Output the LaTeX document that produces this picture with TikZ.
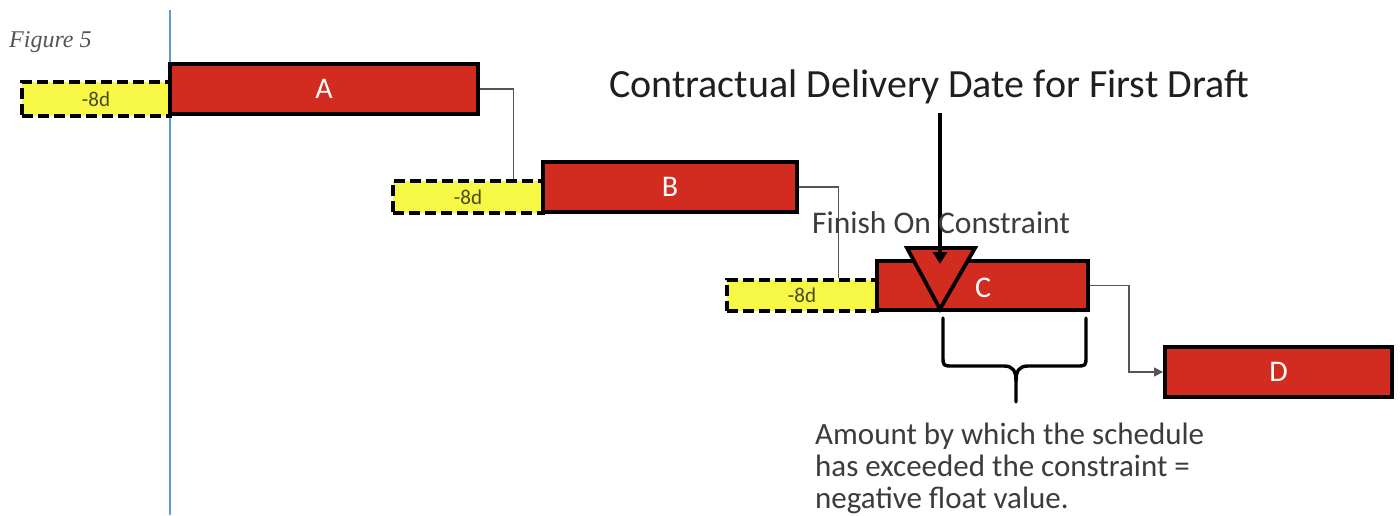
\documentclass[tikz,border=0pt]{standalone}
\usepackage{fontspec}
\setmainfont{Carlito}
\newfontfamily\figfont{Liberation Serif}
\usetikzlibrary{arrows.meta,calc}
\definecolor{barred}{HTML}{D22B1F}
\definecolor{slackyel}{HTML}{F7F746}
\definecolor{slacktxt}{HTML}{4A4A1E}
\definecolor{linegray}{HTML}{555555}
\definecolor{txtgray}{HTML}{3C3C3C}
\definecolor{axisblue}{HTML}{5B9BD5}
\tikzset{
  redbox/.style={draw=black, line width=3.8pt, fill=barred, text=white, inner sep=0pt,
    font=\fontsize{30}{32}\selectfont},
  slackbox/.style={draw=black, line width=3.4pt, dash pattern=on 11pt off 5pt, fill=slackyel,
    text=slacktxt, inner sep=0pt, font=\fontsize{21}{23}\selectfont},
  conn/.style={draw=linegray, line width=1.3pt},
  bigarrow/.style={draw=black, line width=3.4pt, -{Triangle[length=12pt,width=14pt]}},
  brace/.style={draw=black, line width=3.4pt, line cap=round, line join=round},
}
\begin{document}
\begin{tikzpicture}[x=1pt,y=-1pt]
\useasboundingbox (0,0) rectangle (1400,515);
\fill[white] (0,0) rectangle (1400,515);
% time axis
\coordinate (axtop) at (170,10);
\coordinate (axbot) at (170,515);
\draw[axisblue, line width=2.2pt] (axtop) -- (axbot);
\node[anchor=base west, text=linegray, inner sep=0pt, font=\figfont\itshape\fontsize{24}{26}\selectfont] (fig) at (9,47) {Figure 5};
% slack boxes
\node[slackbox, minimum width=148pt, minimum height=34pt] (yA) at (96,99) {-8d};
\node[slackbox, minimum width=150pt, minimum height=32pt] (yB) at (468,197) {-8d};
\node[slackbox, minimum width=150pt, minimum height=31pt] (yC) at (802,295.5) {-8d};
% bars
\node[redbox, minimum width=308pt, minimum height=50pt] (A) at (324,89) {A};
\node[redbox, minimum width=254pt, minimum height=50pt] (B) at (670,187) {B};
\node[redbox, minimum width=211pt, minimum height=49pt] (C) at (982.5,285.5) {};
\node[redbox, minimum width=227pt, minimum height=50pt] (D) at (1278.5,372) {D};
% connectors
\draw[conn] (A.east) -| ([xshift=-31pt]yB.north east);
\draw[conn] (B.east) -| ([xshift=-40pt]yC.north east);
\draw[conn, -{Triangle[length=9pt,width=9pt]}] (C.east) -- ++(39,0) |- (D.west);
% constraint marker
\coordinate (tl) at (907,248);
\coordinate (tr) at (975,248);
\coordinate (tip) at (940,309);
\filldraw[fill=barred, draw=black, line width=3.8pt, line join=miter] (tl) -- (tr) -- (tip) -- cycle;
\node[text=white, font=\fontsize{30}{32}\selectfont, inner sep=0pt] (Clab) at (983,288) {C};
% title + arrow
\node[anchor=base, text=black!88, inner sep=0pt, font=\fontsize{40}{42}\selectfont] (title) at (929,97) {Contractual Delivery Date for First Draft};
\coordinate (arrtop) at (940,113);
\coordinate (arrend) at (940,264);
\draw[bigarrow] (arrtop) -- (arrend);
\node[anchor=base west, text=txtgray, inner sep=0pt, font=\fontsize{31.5}{33}\selectfont] (foc) at (812,233) {Finish On Constraint};
% brace
\draw[brace] (943,318) -- (943,356) .. controls (943,366) .. (953,366) -- (1004,366)
  .. controls (1013,366) and (1016,371) .. (1016,381) -- (1016,402);
\draw[brace] (1086,318) -- (1086,356) .. controls (1086,366) .. (1076,366) -- (1028,366)
  .. controls (1019,366) and (1016,371) .. (1016,381);
\node[anchor=base west, align=left, text=txtgray, inner sep=0pt, font=\fontsize{31}{32}\selectfont] (note) at (815,508)
  {Amount by which the schedule\\has exceeded the constraint =\\negative float value.};
\end{tikzpicture}
\end{document}
